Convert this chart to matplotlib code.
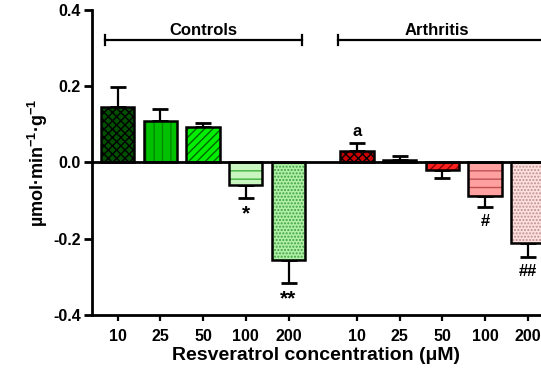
import matplotlib
matplotlib.use("Agg")
import matplotlib.pyplot as plt
import numpy as np

plt.rcParams['font.family'] = ['Liberation Sans', 'DejaVu Sans']
plt.rcParams['font.weight'] = 'bold'
plt.rcParams['mathtext.fontset'] = 'custom'
plt.rcParams['mathtext.rm'] = 'Liberation Sans:bold'
plt.rcParams['mathtext.bf'] = 'Liberation Sans:bold'
plt.rcParams['hatch.linewidth'] = 1.0

concentrations = ['10', '25', '50', '100', '200']
controls_mean = [0.145, 0.108, 0.094, -0.060, -0.257]
controls_err = [0.053, 0.031, 0.010, 0.033, 0.058]
arthritis_mean = [0.030, 0.007, -0.021, -0.088, -0.212]
arthritis_err = [0.022, 0.011, 0.019, 0.029, 0.036]
controls_marks = ['', '', '', '*', '**']
arthritis_marks = ['a', '', '', '#', '##']

ctrl_face = ['#005000', '#00c000', '#00ee00', '#c8f5c0', '#b0f0a8']
ctrl_hatch = ['xxxx', '||', '////', '--', '.....']
ctrl_hcol = ['#000000', '#008800', '#006600', '#40b040', '#40a040']
arth_face = ['#cc0000', '#dd2222', '#ff2020', '#ffa0a0', '#fde0e0']
arth_hatch = ['xxxx', '||', '////', '--', '.....']
arth_hcol = ['#000000', '#880000', '#880000', '#c05050', '#c09090']

fig = plt.figure(figsize=(5.41, 3.82), dpi=100)
ax = fig.add_axes([0.170, 0.1754, 0.830, 0.7986])

x_ctrl = np.arange(5)
x_arth = np.arange(5) + 5.6
width = 0.78

def draw(xs, means, errs, faces, hatches, hcols, marks):
    for xi, m, e, fc, h, hc, mk in zip(xs, means, errs, faces, hatches, hcols, marks):
        ax.bar(xi, m, width, color=fc, edgecolor=hc, hatch=h, linewidth=0, zorder=2)
        ax.bar(xi, m, width, facecolor='none', edgecolor='black', linewidth=1.8, zorder=3)
        if m >= 0:
            ax.errorbar(xi, m, yerr=[[0], [e]], fmt='none', ecolor='black',
                        elinewidth=1.6, capsize=6, capthick=2, zorder=1)
        else:
            ax.errorbar(xi, m, yerr=[[e], [0]], fmt='none', ecolor='black',
                        elinewidth=1.6, capsize=6, capthick=2, zorder=1)
        if mk:
            if m >= 0:
                ax.text(xi, m + e + 0.010, mk, ha='center', va='bottom',
                        fontsize=12, fontweight='bold')
            elif '*' in mk:
                ax.text(xi, m - e - 0.018, mk, ha='center', va='top',
                        fontsize=15, fontweight='bold')
            else:
                ax.text(xi, m - e - 0.018, mk, ha='center', va='top',
                        fontsize=12, fontweight='bold')

draw(x_ctrl, controls_mean, controls_err, ctrl_face, ctrl_hatch, ctrl_hcol, controls_marks)
draw(x_arth, arthritis_mean, arthritis_err, arth_face, arth_hatch, arth_hcol, arthritis_marks)

ax.axhline(0, color='black', linewidth=2, zorder=4)

ax.set_xlim(-0.6, 9.91)
ax.set_ylim(-0.4, 0.4)
ax.set_yticks([-0.4, -0.2, 0.0, 0.2, 0.4])
ax.set_yticklabels(['-0.4', '-0.2', '0.0', '0.2', '0.4'])
ax.set_xticks(list(x_ctrl) + list(x_arth))
ax.set_xticklabels(concentrations + concentrations)

for s in ['top', 'right']:
    ax.spines[s].set_visible(False)
for s in ['left', 'bottom']:
    ax.spines[s].set_linewidth(2)
ax.tick_params(axis='y', direction='out', length=6, width=2, labelsize=11.5, pad=2)
ax.tick_params(axis='x', direction='out', length=4, width=1.6, labelsize=11.5, pad=6)
for lab in ax.get_xticklabels() + ax.get_yticklabels():
    lab.set_fontweight('bold')

ax.set_ylabel(r'µmol·min$^{-1}$·g$^{-1}$', fontsize=13, fontweight='bold', labelpad=2)
ax.set_xlabel('Resveratrol concentration (μM)', fontsize=14, fontweight='bold', labelpad=2)

# group brackets
def bracket(x0, x1, y, label, xt):
    ax.plot([x0, x1], [y, y], color='black', linewidth=1.6, clip_on=False)
    for xe in (x0, x1):
        ax.plot([xe, xe], [y - 0.013, y + 0.013], color='black', linewidth=1.6, clip_on=False)
    ax.text(xt, y + 0.006, label, ha='center', va='bottom', fontsize=12, fontweight='bold')

bracket(-0.3, 4.31, 0.321, 'Controls', 2.0)
bracket(5.17, 10.1, 0.321, 'Arthritis', 7.47)

fig.savefig('out.png', dpi=100)
